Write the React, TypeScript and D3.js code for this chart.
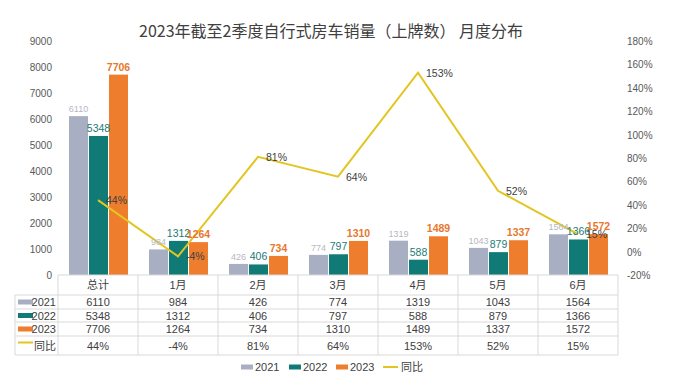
import React, { useEffect, useRef } from "react";
import * as d3 from "d3";

const categories = ["总计", "1月", "2月", "3月", "4月", "5月", "6月"];
const seriesNames = ["2021", "2022", "2023"];
const sales2021 = [6110, 984, 426, 774, 1319, 1043, 1564];
const sales2022 = [5348, 1312, 406, 797, 588, 879, 1366];
const sales2023 = [7706, 1264, 734, 1310, 1489, 1337, 1572];
const yoy = [44, -4, 81, 64, 153, 52, 15];
const leftTicks = [0, 1000, 2000, 3000, 4000, 5000, 6000, 7000, 8000, 9000];
const rightTicks = [-20, 0, 20, 40, 60, 80, 100, 120, 140, 160, 180];

const colors = ["#A9AFC2", "#0F7A76", "#EE7D2E"];
const lineColor = "#E3C521";
const labelColors = ["#B4B8C4", "#1C7A76", "#E8782C"];

export default function App() {
  const ref = useRef<SVGSVGElement>(null);

  useEffect(() => {
    const svg = d3.select(ref.current);
    svg.selectAll("*").remove();
    const font = "'Liberation Sans', Arial, 'Noto Sans CJK SC', sans-serif";
    svg.style("font-family", font);

    const top = 41, bottom = 275, left = 58, right = 618;
    const x = d3.scaleBand().domain(categories).range([left, right]);
    const xs = d3.scaleBand().domain(seriesNames).range([11, 70]).paddingInner(0.05);
    const y = d3.scaleLinear().domain([0, 9000]).range([bottom, top]);
    const yR = d3.scaleLinear().domain([-20, 180]).range([bottom, top]);

    // title
    svg.append("text")
      .attr("x", 331).attr("y", 37)
      .attr("text-anchor", "middle")
      .attr("font-size", 16)
      .attr("font-family", "'Noto Sans CJK SC', sans-serif")
      .attr("fill", "#404040")
      .text("2023年截至2季度自行式房车销量（上牌数） 月度分布");

    // axes labels
    svg.append("g").selectAll("text").data(leftTicks).join("text")
      .attr("x", 52).attr("y", d => y(d) + 4)
      .attr("text-anchor", "end").attr("font-size", 10).attr("fill", "#595959")
      .text(d => d);
    svg.append("g").selectAll("text").data(rightTicks).join("text")
      .attr("x", 627).attr("y", d => yR(d) + 4)
      .attr("font-size", 10).attr("fill", "#595959")
      .text(d => d + "%");

    const all = [sales2021, sales2022, sales2023];

    // bars
    all.forEach((vals, si) => {
      const g = svg.append("g");
      g.selectAll("rect").data(vals).join("rect")
        .attr("x", (d, i) => x(categories[i])! + xs(seriesNames[si])!)
        .attr("y", d => y(d))
        .attr("width", xs.bandwidth())
        .attr("height", d => bottom - y(d))
        .attr("fill", colors[si]);
    });

    // line
    const line = d3.line<number>()
      .x((d, i) => x(categories[i])! + x.bandwidth() / 2)
      .y(d => yR(d));
    svg.append("path").datum(yoy)
      .attr("d", line)
      .attr("fill", "none")
      .attr("stroke", lineColor)
      .attr("stroke-width", 2);

    // bar labels
    all.forEach((vals, si) => {
      svg.append("g").selectAll("text").data(vals).join("text")
        .attr("x", (d, i) => x(categories[i])! + xs(seriesNames[si])! + xs.bandwidth() / 2)
        .attr("y", d => y(d) - 4)
        .attr("text-anchor", "middle")
        .attr("font-size", si === 0 ? 9 : 10.5)
        .attr("font-weight", si === 2 ? "bold" : "normal")
        .attr("fill", labelColors[si])
        .text(d => d);
    });

    // line labels
    svg.append("g").selectAll("text").data(yoy).join("text")
      .attr("x", (d, i) => x(categories[i])! + x.bandwidth() / 2 + 8)
      .attr("y", d => yR(d) + 4)
      .attr("font-size", 10.5)
      .attr("fill", "#404040")
      .text(d => d + "%");

    // data table
    const rowLines = [275, 295, 309, 322, 336, 355];
    const tg = svg.append("g").attr("stroke", "#D9D9D9").attr("stroke-width", 1);
    rowLines.forEach((ry, i) => {
      tg.append("line")
        .attr("x1", i === 0 ? left : 15).attr("x2", right)
        .attr("y1", ry).attr("y2", ry);
    });
    [left, ...categories.map(c => x(c)! + x.bandwidth())].forEach(cx => {
      tg.append("line").attr("x1", cx).attr("x2", cx).attr("y1", 275).attr("y2", 355);
    });
    tg.append("line").attr("x1", 15).attr("x2", 15).attr("y1", 295).attr("y2", 355);

    svg.append("g").selectAll("text").data(categories).join("text")
      .attr("x", d => x(d)! + x.bandwidth() / 2).attr("y", 289)
      .attr("text-anchor", "middle").attr("font-size", 11).attr("fill", "#404040")
      .text(d => d);

    const rows = [
      { name: "2021", vals: sales2021.map(String), color: colors[0] },
      { name: "2022", vals: sales2022.map(String), color: colors[1] },
      { name: "2023", vals: sales2023.map(String), color: colors[2] },
      { name: "同比", vals: yoy.map(d => d + "%"), color: lineColor },
    ];
    rows.forEach((r, ri) => {
      const cy = (rowLines[ri + 1] + rowLines[ri + 2]) / 2;
      if (ri < 3) {
        svg.append("rect").attr("x", 18).attr("y", cy - 2.5).attr("width", 15).attr("height", 5).attr("fill", r.color);
      } else {
        svg.append("line").attr("x1", 18).attr("x2", 33).attr("y1", cy - 3).attr("y2", cy - 3)
          .attr("stroke", r.color).attr("stroke-width", 2);
      }
      svg.append("text").attr("x", 56).attr("y", cy + 4)
        .attr("text-anchor", "end").attr("font-size", 11).attr("fill", "#404040")
        .text(r.name);
      svg.append("g").selectAll("text").data(r.vals).join("text")
        .attr("x", (d, i) => x(categories[i])! + x.bandwidth() / 2)
        .attr("y", cy + 4)
        .attr("text-anchor", "middle").attr("font-size", 11).attr("fill", "#404040")
        .text(d => d);
    });

    // legend
    const legendItems = [
      { name: "2021", color: colors[0], x: 241 },
      { name: "2022", color: colors[1], x: 289 },
      { name: "2023", color: colors[2], x: 336 },
      { name: "同比", color: lineColor, x: 383 },
    ];
    legendItems.forEach((it, i) => {
      if (i < 3) {
        svg.append("rect").attr("x", it.x).attr("y", 364.5).attr("width", 12).attr("height", 5).attr("fill", it.color);
      } else {
        svg.append("line").attr("x1", it.x).attr("x2", it.x + 15).attr("y1", 367).attr("y2", 367)
          .attr("stroke", it.color).attr("stroke-width", 2);
      }
      svg.append("text").attr("x", it.x + (i < 3 ? 14 : 18)).attr("y", 371)
        .attr("font-size", 11).attr("fill", "#404040").text(it.name);
    });
  }, []);

  return (
    <div style={{ position: "absolute", left: 0, top: 0 }}>
      <svg ref={ref} width={690} height={392} style={{ display: "block", background: "#fff" }} />
    </div>
  );
}
